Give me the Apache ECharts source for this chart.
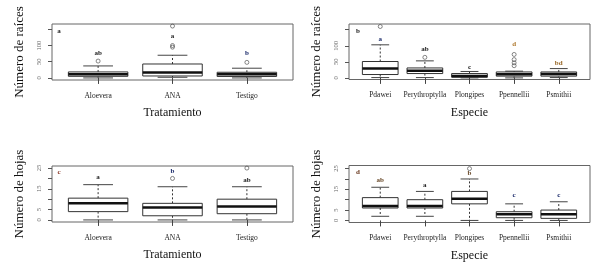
<!DOCTYPE html>
<html>
<head>
<meta charset="utf-8">
<script src="https://cdn.jsdelivr.net/npm/echarts@6/dist/echarts.min.js"></script>
<style>
  html, body { margin: 0; padding: 0; background: #fff; }
  #chart { width: 615px; height: 276px; }
</style>
</head>
<body>
<div id="chart"></div>
<script>
// categories
var treatments = ['Aloevera', 'ANA', 'Testigo'];
var species = ['Pdawei', 'Perythroptylla', 'Plongipes', 'Ppennellii', 'Psmithii'];

// box stats: [lower whisker, q1, median, q3, upper whisker]
var raicesTrat = [[0, 5, 11, 18.5, 37], [2, 6, 16.5, 43, 70], [0, 4.5, 11, 17.5, 30]];
var raicesTratOut = [[1, 52], [2, 95], [2, 100], [2, 160], [3, 48]];
var raicesTratLetters = ['ab', 'a', 'b'];
var raicesTratLetterY = [75, 129, 77];

var raicesEsp = [[1, 10.5, 29.5, 51, 103], [1, 13.5, 22, 31, 53], [0, 2, 6, 13.5, 20], [0, 5.5, 11.5, 18.5, 21], [1, 5.5, 12.5, 18.5, 29]];
var raicesEspOut = [[1, 160], [2, 64], [4, 38], [4, 47], [4, 57], [4, 73]];
var raicesEspLetters = ['a', 'ab', 'c', 'd', 'bd'];
var raicesEspLetterY = [120, 89, 34, 104, 47];

var hojasTrat = [[0, 4, 8, 10.5, 17], [0, 2, 6, 8, 16], [0, 3, 6.5, 10, 16]];
var hojasTratOut = [[2, 20], [3, 25]];
var hojasTratLetters = ['a', 'b', 'ab'];
var hojasTratLetterY = [20.5, 23.5, 19.2];

var hojasEsp = [[2, 6, 7, 11, 16], [2, 6, 7, 10, 14], [0, 8, 10.5, 14, 20], [0, 1.3, 3, 4.2, 8], [0, 1, 3, 5, 9]];
var hojasEspOut = [[3, 25]];
var hojasEspLetters = ['ab', 'a', 'b', 'c', 'c'];
var hojasEspLetterY = [19.5, 16.8, 22.7, 12, 12];

// tick labels
var raicesTicks = [0, 50, 100, 150];
var raicesLabels = [0, 50, 100];
var hojasTicks = [0, 5, 10, 15, 20, 25];
var hojasLabels = [0, 5, 15, 25];

var serif = '"Liberation Serif", "DejaVu Serif", serif';
var chart = echarts.init(document.getElementById('chart'));

function renderBox(params, api) {
  var x = api.value(0);
  var half = api.size([0.4, 0])[0];
  var c = api.coord([x, 0])[0];
  var y = function (v) { return api.coord([x, v])[1]; };
  var lw = y(api.value(1)), q1 = y(api.value(2)), md = y(api.value(3)), q3 = y(api.value(4)), uw = y(api.value(5));
  var dash = { stroke: '#333', lineWidth: 1, lineDash: [2, 2] };
  var solid = { stroke: '#444', lineWidth: 1 };
  return {
    type: 'group',
    children: [
      { type: 'line', shape: { x1: c, y1: q3, x2: c, y2: uw }, style: dash },
      { type: 'line', shape: { x1: c, y1: q1, x2: c, y2: lw }, style: dash },
      { type: 'line', shape: { x1: c - half / 2, y1: uw, x2: c + half / 2, y2: uw }, style: solid },
      { type: 'line', shape: { x1: c - half / 2, y1: lw, x2: c + half / 2, y2: lw }, style: solid },
      { type: 'rect', shape: { x: c - half, y: q3, width: 2 * half, height: q1 - q3 }, style: { fill: '#fff', stroke: '#333', lineWidth: 1 } },
      { type: 'line', shape: { x1: c - half, y1: md, x2: c + half, y2: md }, style: { stroke: '#111', lineWidth: 2.5 } }
    ]
  };
}

function renderLetter(letters, colors) {
  return function (params, api) {
    var p = api.coord([api.value(0), api.value(1)]);
    return {
      type: 'text', x: p[0], y: p[1],
      style: { text: letters[params.dataIndex], fill: colors[params.dataIndex], font: 'bold 7px ' + serif, align: 'center', verticalAlign: 'middle' }
    };
  };
}

function boxData(stats) {
  return stats.map(function (s, i) { return [i + 1].concat(s); });
}
function letterData(ys) {
  return ys.map(function (v, i) { return [i + 1, v]; });
}

var grids = [
  { left: 52, top: 24, width: 241, height: 56 },
  { left: 349, top: 24, width: 241, height: 55.5 },
  { left: 52, top: 166, width: 241, height: 56 },
  { left: 349, top: 165.5, width: 241, height: 57 }
];

function xAxis(i, cats, name) {
  var n = cats.length;
  return {
    type: 'value', gridIndex: i, min: 0.5 - 0.04 * n, max: n + 0.5 + 0.04 * n,
    name: name, nameLocation: 'middle', nameGap: 27,
    nameTextStyle: { fontFamily: serif, fontSize: 12, color: '#111' },
    axisLine: { show: false }, splitLine: { show: false },
    axisTick: { show: true, length: 6, lineStyle: { color: '#444' }, customValues: cats.map(function (c, k) { return k + 1; }) },
    axisLabel: {
      margin: 12, fontFamily: serif, fontSize: 7.5, color: '#222',
      customValues: cats.map(function (c, k) { return k + 1; }),
      formatter: function (v) { return cats[Math.round(v) - 1]; }
    }
  };
}

function yAxis(i, min, max, ticks, labels, name) {
  return {
    type: 'value', gridIndex: i, min: min, max: max,
    name: name, nameLocation: 'middle', nameGap: 26,
    nameTextStyle: { fontFamily: serif, fontSize: 13, color: '#111' },
    axisLine: { show: false }, splitLine: { show: false },
    axisTick: { show: true, length: 4, lineStyle: { color: '#555' }, customValues: ticks },
    axisLabel: { rotate: 90, margin: 9, fontFamily: serif, fontSize: 6.5, color: '#666', customValues: labels }
  };
}

var panels = [
  { box: raicesTrat, out: raicesTratOut, letters: raicesTratLetters, ly: raicesTratLetterY, colors: ['#222', '#222', '#1a2a6a'] },
  { box: raicesEsp, out: raicesEspOut, letters: raicesEspLetters, ly: raicesEspLetterY, colors: ['#1a2a6a', '#222', '#222', '#b07a30', '#9a6a2a'] },
  { box: hojasTrat, out: hojasTratOut, letters: hojasTratLetters, ly: hojasTratLetterY, colors: ['#222', '#1a2a6a', '#222'] },
  { box: hojasEsp, out: hojasEspOut, letters: hojasEspLetters, ly: hojasEspLetterY, colors: ['#6a4a2a', '#222', '#6a4a2a', '#1a2a6a', '#1a2a6a'] }
];

var series = [];
panels.forEach(function (p, i) {
  series.push({ type: 'custom', xAxisIndex: i, yAxisIndex: i, renderItem: renderBox, data: boxData(p.box), clip: false, silent: true });
  series.push({
    type: 'scatter', xAxisIndex: i, yAxisIndex: i, data: p.out, symbol: 'circle', symbolSize: 4,
    itemStyle: { color: 'rgba(255,255,255,0)', borderColor: '#444', borderWidth: 0.8 }, clip: false, silent: true
  });
  series.push({ type: 'custom', xAxisIndex: i, yAxisIndex: i, renderItem: renderLetter(p.letters, p.colors), data: letterData(p.ly), clip: false, silent: true });
});

var panelTags = [['a', 59, 31, '#222'], ['b', 358, 31, '#222'], ['c', 59, 172, '#8b3a2a'], ['d', 358, 172, '#6a3a20']];

chart.setOption({
  animation: false,
  backgroundColor: '#fff',
  grid: grids.map(function (g) { return Object.assign({ show: true, borderColor: '#666', borderWidth: 1, backgroundColor: 'transparent' }, g); }),
  xAxis: [
    xAxis(0, treatments, 'Tratamiento'),
    xAxis(1, species, 'Especie'),
    xAxis(2, treatments, 'Tratamiento'),
    xAxis(3, species, 'Especie')
  ],
  yAxis: [
    yAxis(0, -6.4, 166.4, raicesTicks, raicesLabels, 'Número de raíces'),
    yAxis(1, -5, 167.8, raicesTicks, raicesLabels, 'Número de raíces'),
    yAxis(2, -1, 26, hojasTicks, hojasLabels, 'Número de hojas'),
    yAxis(3, -1, 26.5, hojasTicks, hojasLabels, 'Número de hojas')
  ],
  series: series,
  graphic: panelTags.map(function (t) {
    return { type: 'text', x: t[1], y: t[2], style: { text: t[0], fill: t[3], font: 'bold 7px ' + serif, align: 'center', verticalAlign: 'middle' } };
  })
});
</script>
</body>
</html>
